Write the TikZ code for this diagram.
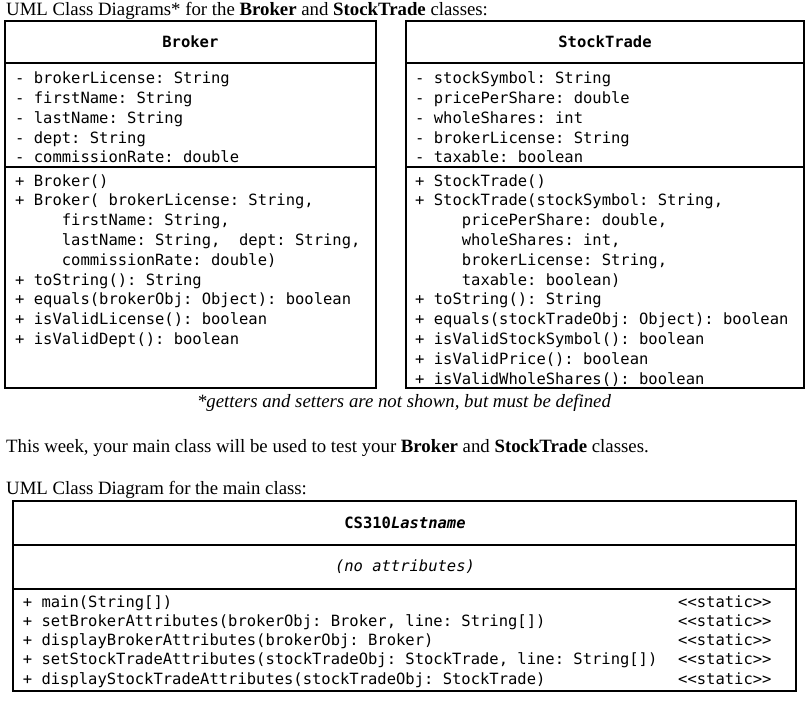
\documentclass[tikz,border=0pt]{standalone}
\usepackage{fontspec}
\setmainfont{Liberation Serif}
\setmonofont{DejaVu Sans Mono}
\usetikzlibrary{positioning}
\tikzset{frame/.style={draw=black,line width=2.2pt},
  divider/.style={draw=black,line width=1.8pt},
  cname/.style={inner sep=0pt,font=\ttfamily\bfseries\fontsize{15.5}{19}\selectfont},
  members/.style={anchor=north west,inner sep=0pt,align=left,font=\ttfamily\fontsize{15.5}{19.8}\selectfont},
  mainops/.style={members,font=\ttfamily\fontsize{15.5}{19.25}\selectfont},
  prose/.style={anchor=base west,inner sep=0pt,font=\fontsize{18.8}{21}\selectfont}}
\newcommand{\ind}{\phantom{xxxxx}}

\begin{document}
\begin{tikzpicture}[x=1pt,y=-1pt]
\useasboundingbox[fill=white] (0,0) rectangle (812,702);
% headings and notes
\node[prose] (title) at (6,15) {UML Class Diagrams* for the \textbf{Broker} and \textbf{StockTrade} classes:};
\node[prose,anchor=base,font=\itshape\fontsize{18.8}{21}\selectfont] (note) at (404,407) {*getters and setters are not shown, but must be defined};
\node[prose] (week) at (6,452) {This week, your main class will be used to test your \textbf{Broker} and \textbf{StockTrade} classes.};
\node[prose] (maintitle) at (6,494) {UML Class Diagram for the main class:};
% Broker
\draw[frame] (5,20.7) rectangle (375.7,388);
\draw[divider] (5,63.3) -- (375.7,63.3);
\draw[divider] (5,166.7) -- (375.7,166.7);
\node[cname] (brkName) at (190.4,42) {Broker};
\node[members] (brkAttr) at (15,71.7) {- brokerLicense: String\\- firstName: String\\- lastName: String\\- dept: String\\- commissionRate: double};
\node[members] (brkOps) at (15,174.2) {+ Broker()\\+ Broker( brokerLicense: String,\\\ind firstName: String,\\\ind lastName: String,\ \ dept: String,\\\ind commissionRate: double)\\+ toString(): String\\+ equals(brokerObj: Object): boolean\\+ isValidLicense(): boolean\\+ isValidDept(): boolean};
% StockTrade
\draw[frame] (405.7,20.7) rectangle (804.3,388);
\draw[divider] (405.7,63.3) -- (804.3,63.3);
\draw[divider] (405.7,166.7) -- (804.3,166.7);
\node[cname] (stName) at (605,42) {StockTrade};
\node[members] (stAttr) at (415,71.7) {- stockSymbol: String\\- pricePerShare: double\\- wholeShares: int\\- brokerLicense: String\\- taxable: boolean};
\node[members] (stOps) at (415,174.2) {+ StockTrade()\\+ StockTrade(stockSymbol: String,\\\ind pricePerShare: double,\\\ind wholeShares: int,\\\ind brokerLicense: String,\\\ind taxable: boolean)\\+ toString(): String\\+ equals(stockTradeObj: Object): boolean\\+ isValidStockSymbol(): boolean\\+ isValidPrice(): boolean\\+ isValidWholeShares(): boolean};
% main class
\draw[frame] (13.3,500.7) rectangle (796,691);
\draw[divider] (13.3,545) -- (796,545);
\draw[divider] (13.3,589) -- (796,589);
\node[cname] (mainName) at (405,523) {CS310\textit{Lastname}};
\node[cname,font=\ttfamily\itshape\fontsize{15.5}{19}\selectfont] (mainAttr) at (405,567) {(no attributes)};
\node[mainops] (mainOps) at (22.7,595.2) {+ main(String[])\\+ setBrokerAttributes(brokerObj: Broker, line: String[])\\+ displayBrokerAttributes(brokerObj: Broker)\\+ setStockTradeAttributes(stockTradeObj: StockTrade, line: String[])\\+ displayStockTradeAttributes(stockTradeObj: StockTrade)};
\node[mainops] (mainTags) at (678,595.2) {<{}<static>{}>\\<{}<static>{}>\\<{}<static>{}>\\<{}<static>{}>\\<{}<static>{}>};
\end{tikzpicture}
\end{document}
